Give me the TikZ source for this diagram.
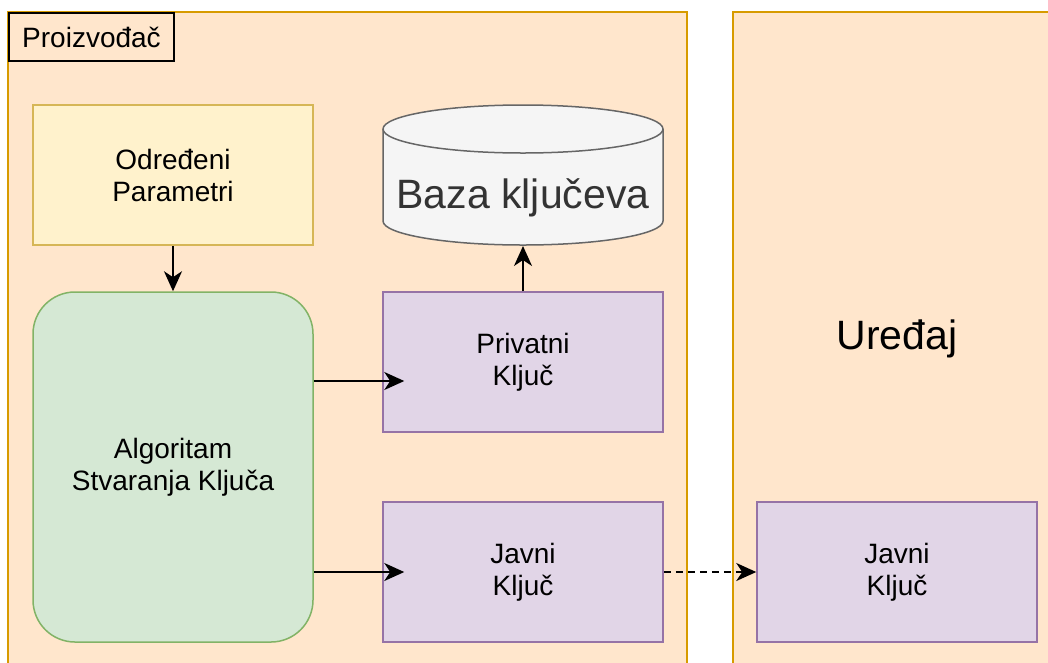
\documentclass[tikz,border=0pt]{standalone}
\usepackage{fontspec}
\setmainfont{Liberation Sans}
\usetikzlibrary{arrows.meta,positioning}
\definecolor{grpfill}{HTML}{FFE6CC}
\definecolor{grpline}{HTML}{D79B00}
\definecolor{parfill}{HTML}{FFF2CC}
\definecolor{parline}{HTML}{D6B656}
\definecolor{algfill}{HTML}{D5E8D4}
\definecolor{algline}{HTML}{82B366}
\definecolor{keyfill}{HTML}{E1D5E7}
\definecolor{keyline}{HTML}{9673A6}
\definecolor{dbfill}{HTML}{F5F5F5}
\definecolor{dbline}{HTML}{666666}
\definecolor{dbtext}{HTML}{333333}
\tikzset{>={Stealth[length=20pt,width=18pt,inset=6pt]}}
\tikzset{
  blok/.style={draw, line width=1.5pt, minimum width=280pt, minimum height=140pt,
    inner sep=0pt, align=center, font=\fontsize{28}{32}\selectfont},
  kljuc/.style={blok, fill=keyfill, draw=keyline},
  bigtxt/.style={font=\fontsize{41}{48}\selectfont}
}

\begin{document}
\begin{tikzpicture}[x=1pt, y=-1pt, line width=2pt]
    \useasboundingbox (0,0) rectangle (1048,662);
    \clip (0,0) rectangle (1048,662);

    \filldraw [fill=grpfill, draw=grpline] (8,12) rectangle (687,668);
    \filldraw [fill=grpfill, draw=grpline] (733,12) rectangle (1062,668);
    \node [draw=black, anchor=north west, minimum width=165pt, minimum height=48pt,
      inner sep=0pt, font=\fontsize{28}{32}\selectfont] (proiz) at (8,12) {Proizvođač};
    \node [bigtxt] (uredjaj) at (897,339) {Uređaj};

    \node [blok, fill=parfill, draw=parline] (param) at (173,175) {Određeni\\Parametri};
    \node [blok, fill=algfill, draw=algline, minimum height=350pt,
      rounded corners=42pt] (algo) at (173,467) {Algoritam\\Stvaranja Ključa};
    \node [kljuc] (privatni) at (523,362) {Privatni\\Ključ};
    \node [kljuc] (javni) at (523,572) {Javni\\Ključ};
    \node [kljuc] (javniU) at (897,572) {Javni\\Ključ};

    \node [minimum width=280pt, minimum height=140pt, inner sep=0pt] (baza) at (523,175) {};
    \filldraw [fill=dbfill, draw=dbline, line width=1.5pt] (383,129) -- (383,221)
      arc [start angle=180, end angle=360, x radius=140pt, y radius=24pt] -- (663,129)
      arc [start angle=0, end angle=180, x radius=140pt, y radius=24pt] -- cycle;
    \draw [dbline, line width=1.5pt] (383,129)
      arc [start angle=180, end angle=360, x radius=140pt, y radius=24pt];
    \node [bigtxt, text=dbtext, anchor=base] at (523,208) {Baza ključeva};

    \coordinate (gore) at (0,381);
    \draw [->] (param) -- (algo);
    \draw [->] (privatni.north) -- (baza.south);
    \draw [->, shorten >=-22pt] (algo.east |- gore) -- (privatni.west |- gore);
    \draw [->, shorten >=-22pt] (algo.east |- javni) -- (javni.west);
    \draw [->, dash pattern=on 7pt off 5pt] (javni.east) -- (javniU.west);
\end{tikzpicture}
\end{document}
